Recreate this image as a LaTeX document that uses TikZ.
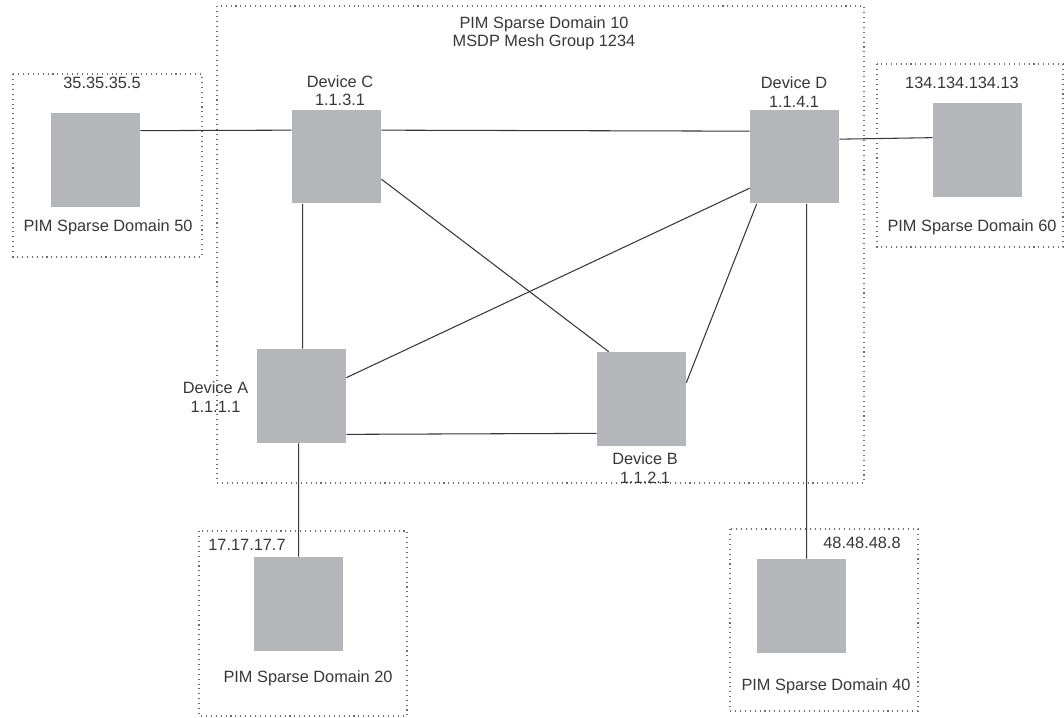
\documentclass[tikz,border=0pt]{standalone}
\usepackage{fontspec}
\setmainfont{Liberation Sans}
\usepackage{tikz}
\usetikzlibrary{positioning, calc}
\definecolor{boxgray}{RGB}{181,182,186}
\definecolor{inkgray}{RGB}{55,55,55}
\definecolor{dotgray}{RGB}{110,110,110}
\tikzset{
  router/.style={
    draw=none, fill=boxgray, inner sep=0pt,
    minimum width=1.78cm, minimum height=1.88cm
  },
  domainframe/.style={draw=dotgray, line width=0.6pt, dash pattern=on 0.6pt off 2.2pt},
  link/.style={draw=inkgray, line width=0.6pt},
  lbl/.style={
    text=inkgray, inner sep=0pt, align=center,
    font=\fontsize{9.3}{10.4}\selectfont
  }
}

\begin{document}
\begin{tikzpicture}[x=0.02cm, y=-0.02cm]
\useasboundingbox (0,0) rectangle (1064,717);

%% Domain frames
\draw[domainframe] (217,6) rectangle (864,483);
\draw[domainframe] (13,74) rectangle (202,257);
\draw[domainframe] (877,64) rectangle (1063,247);
\draw[domainframe] (199,531) rectangle (407,716);
\draw[domainframe] (730,529) rectangle (918,711);

%% Mesh group title
\node[lbl] (title) at (544,33) {PIM Sparse Domain 10\\MSDP Mesh Group 1234};

%% Devices of the mesh group
\node[router] (devC) at (336.5,156.5) {};
\node[router] (devD) at (794.5,156.5) {};
\node[router] (devA) at (301.5,396) {};
\node[router] (devB) at (641.5,399) {};
\node[lbl] (labC) at (340,91) {Device C\\1.1.3.1};
\node[lbl] (labD) at (794,92) {Device D\\1.1.4.1};
\node[lbl] (labA) at (215.5,397) {Device A\\1.1.1.1};
\node[lbl] (labB) at (645,468) {Device B\\1.1.2.1};

%% Outside domains
\node[router] (dom50) at (95.5,160) {};
\node[router] (dom60) at (977.5,150) {};
\node[router] (dom20) at (298.5,604) {};
\node[router] (dom40) at (801.5,606) {};
\node[lbl] (ip50) at (102,83) {35.35.35.5};
\node[lbl] (ip60) at (962,83) {134.134.134.13};
\node[lbl] (ip20) at (247,545) {17.17.17.7};
\node[lbl] (ip40) at (862,543) {48.48.48.8};
\node[lbl] (name50) at (108,227) {PIM Sparse Domain 50};
\node[lbl] (name60) at (972,227) {PIM Sparse Domain 60};
\node[lbl] (name20) at (308,678) {PIM Sparse Domain 20};
\node[lbl] (name40) at (826,686) {PIM Sparse Domain 40};

%% Links
\draw[link] ([yshift=-0.36cm]dom50.north east) -- ([yshift=-0.42cm]devC.north west);
\draw[link] ([yshift=-0.42cm]devC.north east) -- ([yshift=-0.44cm]devD.north west);
\draw[link] ([yshift=-0.6cm]devD.north east) -- ([yshift=-0.7cm]dom60.north west);
\draw[link] ([xshift=0.22cm]devC.south west) -- ([xshift=0.92cm]devA.north west);
\draw[link] ([yshift=-1.4cm]devC.north east) -- ([xshift=0.24cm]devB.north west);
\draw[link] ([yshift=-1.58cm]devD.north west) -- ([yshift=-0.58cm]devA.north east);
\draw[link] ([xshift=0.14cm]devD.south west) -- ([yshift=-0.62cm]devB.north east);
\draw[link] ([xshift=1.14cm]devD.south west) -- ([xshift=1.0cm]dom40.north west);
\draw[link] ([yshift=0.18cm]devA.south east) -- ([yshift=0.26cm]devB.south west);
\draw[link] ([xshift=0.84cm]devA.south west) -- ([xshift=0.9cm]dom20.north west);
\end{tikzpicture}
\end{document}
